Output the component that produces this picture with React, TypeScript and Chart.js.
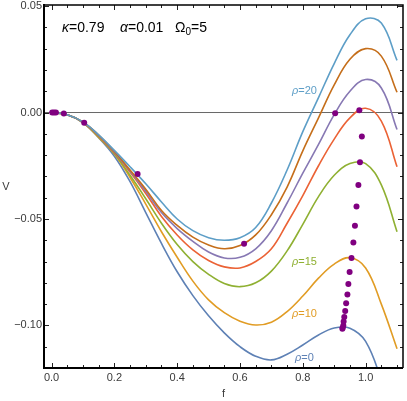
import React, { useEffect, useRef } from 'react';
import { Chart, registerables } from 'chart.js';

Chart.register(...registerables);

// ---------- data ----------
const fValues = [0, 0.05, 0.1, 0.15, 0.2, 0.25, 0.3, 0.35, 0.4, 0.45, 0.5, 0.55, 0.6, 0.65, 0.7, 0.75, 0.8, 0.85, 0.9, 0.95, 1.0, 1.05, 1.1];

const vRho0 = [0, -0.0011, -0.0048, -0.0118, -0.0205, -0.0325, -0.047, -0.0615, -0.0748, -0.086, -0.0955, -0.1035, -0.11, -0.1145, -0.1162, -0.1135, -0.1092, -0.1045, -0.1012, -0.1013, -0.1075, -0.126, -0.152];
const vRho10 = [0, -0.0011, -0.0047, -0.0117, -0.0195, -0.0305, -0.043, -0.056, -0.068, -0.0792, -0.088, -0.094, -0.098, -0.0998, -0.0985, -0.0935, -0.0862, -0.0778, -0.0712, -0.0682, -0.073, -0.09, -0.111];
const vRho15 = [0, -0.001, -0.0046, -0.0113, -0.0192, -0.0295, -0.0405, -0.052, -0.062, -0.07, -0.076, -0.0803, -0.0818, -0.08, -0.0745, -0.065, -0.0525, -0.0395, -0.0295, -0.024, -0.024, -0.034, -0.056];
const vRho17 = [0, -0.001, -0.0045, -0.011, -0.0188, -0.028, -0.038, -0.0488, -0.0575, -0.0645, -0.0695, -0.0725, -0.073, -0.07, -0.064, -0.052, -0.039, -0.025, -0.0125, -0.0025, 0.002, -0.004, -0.0255];
const vRho18 = [0, -0.001, -0.0045, -0.0108, -0.0185, -0.0275, -0.037, -0.047, -0.0545, -0.0605, -0.0655, -0.0683, -0.068, -0.064, -0.0555, -0.0425, -0.0285, -0.015, -0.001, 0.01, 0.0155, 0.0115, -0.008];
const vRho19 = [0, -0.001, -0.0044, -0.0106, -0.0182, -0.027, -0.036, -0.046, -0.053, -0.0585, -0.0622, -0.064, -0.0625, -0.0575, -0.048, -0.035, -0.018, -0.0025, 0.013, 0.025, 0.03, 0.0265, 0.0095];
const vRho20 = [0, -0.001, -0.0044, -0.0105, -0.0178, -0.0255, -0.0335, -0.042, -0.05, -0.0555, -0.0588, -0.06, -0.0588, -0.054, -0.0425, -0.027, -0.009, 0.007, 0.023, 0.0365, 0.044, 0.042, 0.0245];

const dotF = [0.002, 0.008, 0.014, 0.039, 0.104, 0.274, 0.613, 0.903, 0.98, 0.988, 0.982, 0.977, 0.971, 0.966, 0.961, 0.955, 0.949, 0.945, 0.942, 0.938, 0.935, 0.932, 0.93, 0.929, 0.927, 0.926];
const dotV = [0, 0, 0, -0.0005, -0.0048, -0.0289, -0.0616, -0.0003, 0.0011, -0.0113, -0.0234, -0.034, -0.0441, -0.0532, -0.061, -0.0683, -0.0749, -0.0805, -0.0855, -0.0896, -0.0932, -0.0961, -0.0982, -0.1, -0.1011, -0.1016];

const xTicks = [0, 0.2, 0.4, 0.6, 0.8, 1.0];
const xTickLabels = ['0.0', '0.2', '0.4', '0.6', '0.8', '1.0'];
const yTicks = [0.05, 0, -0.05, -0.1];
const yTickLabels = ['0.05', '0.00', '\u22120.05', '\u22120.10'];

const seriesColors = ['#5E81B5', '#E19C24', '#8FB032', '#EB6235', '#8778B3', '#C56E1A', '#5D9EC7'];
const dotColor = '#800080';

const rhoLabelTexts = ['=20', '=15', '=10', '=0'];
const paramTexts = ['=0.79', '=0.01', '=5'];

// ---------- drawing helpers ----------
const FONT = "'Liberation Sans', Arial, Helvetica, sans-serif";

type Part = { t: string; i?: boolean; s?: number; dy?: number };

function drawRich(ctx: CanvasRenderingContext2D, parts: Part[], x: number, y: number, size: number, color: string) {
  let cx = x;
  ctx.fillStyle = color;
  ctx.textBaseline = 'middle';
  ctx.textAlign = 'left';
  for (const p of parts) {
    const sz = p.s ?? size;
    ctx.font = `${p.i ? 'italic ' : ''}${sz}px ${FONT}`;
    ctx.fillText(p.t, cx, y + (p.dy ?? 0));
    cx += ctx.measureText(p.t).width;
  }
}

const framePlugin = {
  id: 'mmaFrame',
  beforeDatasetsDraw(chart: any) {
    const { ctx, chartArea, scales } = chart;
    const y0 = scales.y.getPixelForValue(0);
    ctx.save();
    ctx.strokeStyle = 'rgba(0,0,0,0.6)';
    ctx.lineWidth = 1;
    ctx.beginPath();
    ctx.moveTo(chartArea.left, y0);
    ctx.lineTo(chartArea.right, y0);
    ctx.stroke();
    ctx.restore();
  },
  afterDatasetsDraw(chart: any) {
    const { ctx, chartArea, scales } = chart;
    const { left, right, top, bottom } = chartArea;
    const xs = scales.x;
    const ys = scales.y;
    ctx.save();

    // ticks
    ctx.strokeStyle = '#222';
    ctx.lineWidth = 1;
    ctx.beginPath();
    for (let k = 0; k <= 22; k++) {
      const v = k * 0.05;
      const px = Math.round(xs.getPixelForValue(v)) + 0.5;
      const major = k % 4 === 0;
      const len = major ? 5 : 3;
      ctx.moveTo(px, bottom);
      ctx.lineTo(px, bottom - len);
      ctx.moveTo(px, top);
      ctx.lineTo(px, top + len);
    }
    for (let k = -12; k <= 5; k++) {
      const v = k * 0.01;
      const py = Math.round(ys.getPixelForValue(v)) + 0.5;
      const major = k % 5 === 0;
      const len = major ? 5 : 3;
      ctx.moveTo(left, py);
      ctx.lineTo(left + len, py);
      ctx.moveTo(right, py);
      ctx.lineTo(right - len, py);
    }
    ctx.stroke();

    // frame
    ctx.strokeStyle = '#000';
    ctx.lineWidth = 1.5;
    ctx.beginPath();
    ctx.moveTo(left, top);
    ctx.lineTo(right, top);
    ctx.lineTo(right, bottom);
    ctx.stroke();
    ctx.lineWidth = 2;
    ctx.beginPath();
    ctx.moveTo(left, top - 1);
    ctx.lineTo(left, bottom);
    ctx.lineTo(right, bottom);
    ctx.stroke();

    // tick labels
    ctx.fillStyle = '#3a3a3a';
    ctx.font = `11px ${FONT}`;
    ctx.textAlign = 'center';
    ctx.textBaseline = 'middle';
    xTicks.forEach((v, i) => {
      ctx.fillText(xTickLabels[i], xs.getPixelForValue(v), bottom + 10);
    });
    ctx.textAlign = 'right';
    yTicks.forEach((v, i) => {
      ctx.fillText(yTickLabels[i], left - 2, ys.getPixelForValue(v));
    });

    // axis titles
    ctx.textAlign = 'center';
    ctx.font = `11px ${FONT}`;
    ctx.fillText('V', 6, (top + bottom) / 2);
    ctx.fillText('f', (left + right) / 2, bottom + 26);

    // parameter annotation
    drawRich(ctx, [{ t: '\u03BA', i: true }, { t: paramTexts[0] }], 62, 28, 14, '#000');
    drawRich(ctx, [{ t: '\u03B1', i: true }, { t: paramTexts[1] }], 120, 28, 14, '#000');
    drawRich(ctx, [{ t: '\u03A9' }, { t: '0', s: 10, dy: 4 }, { t: paramTexts[2] }], 175, 28, 14, '#000');

    // rho labels
    const rhoColors = [seriesColors[6], seriesColors[2], seriesColors[1], seriesColors[0]];
    const rhoPos = [[292, 91], [292, 262], [292, 314], [295, 358]];
    rhoLabelTexts.forEach((t, i) => {
      drawRich(ctx, [{ t: '\u03C1', i: true }, { t }], rhoPos[i][0], rhoPos[i][1], 11, rhoColors[i]);
    });

    ctx.restore();
  },
};

function line(values: number[], color: string) {
  return {
    type: 'line' as const,
    data: fValues.map((f, i) => ({ x: f, y: values[i] })),
    borderColor: color,
    backgroundColor: color,
    borderWidth: 1.6,
    pointRadius: 0,
    tension: 0.4,
    fill: false,
    clip: 0,
  };
}

export default function App() {
  const ref = useRef<HTMLCanvasElement>(null);
  useEffect(() => {
    if (!ref.current) return;
    const chart = new Chart(ref.current, {
      type: 'line',
      data: {
        datasets: [
          {
            type: 'scatter' as const,
            data: dotF.map((f, i) => ({ x: f, y: dotV[i] })),
            backgroundColor: dotColor,
            borderColor: dotColor,
            pointRadius: 3,
            pointBorderWidth: 0,
            showLine: false,
            clip: 4,
          } as any,
          line(vRho20, seriesColors[6]),
          line(vRho19, seriesColors[5]),
          line(vRho18, seriesColors[4]),
          line(vRho17, seriesColors[3]),
          line(vRho15, seriesColors[2]),
          line(vRho10, seriesColors[1]),
          line(vRho0, seriesColors[0]),
        ],
      },
      options: {
        responsive: false,
        maintainAspectRatio: false,
        animation: false,
        devicePixelRatio: 1,
        layout: { padding: { left: 44, right: 1, top: 5, bottom: 33 } },
        scales: {
          x: { type: 'linear', display: false, min: -0.024, max: 1.119 },
          y: { type: 'linear', display: false, min: -0.12, max: 0.0505 },
        },
        plugins: {
          legend: { display: false },
          tooltip: { enabled: false },
        },
      },
      plugins: [framePlugin],
    });
    return () => chart.destroy();
  }, []);
  return (
    <div style={{ position: 'fixed', left: 0, top: 0, width: 407, height: 401, background: '#fff' }}>
      <canvas ref={ref} width={407} height={401} style={{ width: 407, height: 401, display: 'block' }} />
    </div>
  );
}
